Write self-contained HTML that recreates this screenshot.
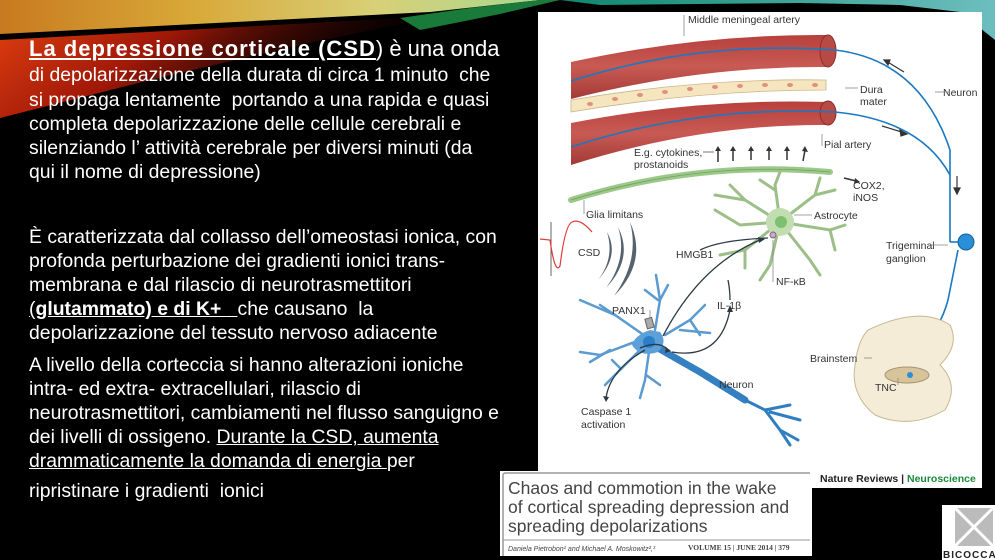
<!DOCTYPE html>
<html><head><meta charset="utf-8"><style>
html,body{margin:0;padding:0;background:#000;width:995px;height:560px;overflow:hidden;position:relative;font-family:"Liberation Sans",sans-serif}
.t{position:absolute;left:29px;color:#fff;font-size:19.4px;white-space:nowrap;line-height:22px}
.u{text-decoration:underline}
</style></head><body>
<svg width="995" height="560" style="position:absolute;left:0;top:0">
<defs>
<linearGradient id="g1" x1="0" y1="0" x2="1" y2="0"><stop offset="0" stop-color="#c87a20"/><stop offset="0.35" stop-color="#d8a838"/><stop offset="0.7" stop-color="#d8d078"/><stop offset="1" stop-color="#a8d890"/></linearGradient>
<linearGradient id="g2" x1="0" y1="0" x2="1" y2="0.3"><stop offset="0" stop-color="#e04010"/><stop offset="0.4" stop-color="#a01808"/><stop offset="1" stop-color="#000" stop-opacity="0"/></linearGradient>
<linearGradient id="g4" x1="0" y1="0" x2="1" y2="0"><stop offset="0" stop-color="#1a8"/><stop offset="1" stop-color="#8ee"/></linearGradient>
<linearGradient id="art" x1="0" y1="0" x2="0" y2="1"><stop offset="0" stop-color="#b8403c"/><stop offset="0.5" stop-color="#c85a54"/><stop offset="1" stop-color="#a33a36"/></linearGradient>
</defs>
<polygon points="0,0 540,0 430,12 0,34" fill="url(#g1)"/>
<polygon points="0,40 440,16 300,45 150,80 0,118" fill="url(#g2)"/>
<polygon points="400,18 470,8 540,0 560,0 500,14 420,30" fill="#1a7a3a"/>
<polygon points="560,0 995,0 995,40 960,12 900,5 800,3 600,5" fill="url(#g4)" opacity="0.8"/>

<!-- figure -->
<rect x="538" y="12" width="444" height="459" fill="#fff"/>
<rect x="812" y="471" width="170" height="17" fill="#fff"/>
<path d="M571,62 Q700,34 827,35 L827,67 Q700,66 571,99 Z" fill="url(#art)"/>
<ellipse cx="828" cy="51" rx="8" ry="16" fill="#b84a45" stroke="#8a2e2a" stroke-width="1"/>
<path d="M571,100 Q700,78 826,80 L826,90 Q700,90 571,112 Z" fill="#f6e6c0" stroke="#c9b48a" stroke-width="0.8"/>
<g fill="#e09080"><ellipse cx="590" cy="104" rx="3" ry="2"/><ellipse cx="615" cy="99" rx="3" ry="2"/><ellipse cx="640" cy="95" rx="3" ry="2"/><ellipse cx="665" cy="92" rx="3" ry="2"/><ellipse cx="690" cy="89" rx="3" ry="2"/><ellipse cx="715" cy="87" rx="3" ry="2"/><ellipse cx="740" cy="86" rx="3" ry="2"/><ellipse cx="765" cy="85" rx="3" ry="2"/><ellipse cx="790" cy="85" rx="3" ry="2"/><ellipse cx="815" cy="85" rx="3" ry="2"/></g>
<path d="M571,123 Q700,98 827,102 L827,125 Q700,124 571,165 Z" fill="url(#art)"/>
<ellipse cx="828" cy="113" rx="8" ry="12" fill="#b84a45" stroke="#8a2e2a" stroke-width="1"/>
<g fill="none" stroke="#1a78c2" stroke-width="1.6">
<path d="M571,81 Q700,40 835,50 Q920,60 950,150 L950,242"/>
<path d="M571,147 Q700,105 835,112 Q920,120 950,175"/>
<path d="M958,250 Q950,290 948,300 Q940,330 920,345 Q905,360 906,375"/>
</g>
<circle cx="966" cy="242" r="8" fill="#2a8fd6" stroke="#1060a0"/>
<line x1="950" y1="242" x2="958" y2="242" stroke="#1a78c2" stroke-width="1.6"/>
<g stroke="#333" stroke-width="1.2" fill="#333">
<path d="M904,72 L886,61" /><polygon points="884,60 890,60 888,65"/>
<path d="M882,126 L905,133" /><polygon points="907,134 900,130 901,136"/>
<path d="M957,176 L957,190" /><polygon points="954,188 960,188 957,194"/>
</g>
<path d="M571,200 Q700,160 830,172" fill="none" stroke="#9cc98a" stroke-width="6" stroke-linecap="round"/>
<path d="M571,200 Q700,160 830,172" fill="none" stroke="#6fa05c" stroke-width="0.8"/>
<g stroke="#333" stroke-width="1.5" fill="#333">
<line x1="718" y1="162" x2="718" y2="150"/><line x1="733" y1="161" x2="733" y2="150"/><line x1="751" y1="160" x2="751" y2="150"/><line x1="769" y1="160" x2="769" y2="150"/><line x1="787" y1="160" x2="787" y2="150"/><line x1="803" y1="161" x2="805" y2="150"/>
<path d="M844,178 L856,181" fill="none"/>
</g>
<g fill="#333"><polygon points="715,151 721,151 718,146"/><polygon points="730,151 736,151 733,146"/><polygon points="748,151 754,151 751,146"/><polygon points="766,151 772,151 769,146"/><polygon points="784,151 790,151 787,146"/><polygon points="802,151 808,152 805,146"/><polygon points="855,178 860,182 854,184"/></g>
<line x1="703" y1="152" x2="714" y2="152" stroke="#555" stroke-width="0.8"/>
<g stroke="#9cbf88" stroke-width="3" fill="none" stroke-linecap="round">
<path d="M780,222 L745,200 L730,185"/><path d="M745,200 L715,195"/><path d="M780,222 L775,185 L780,172"/><path d="M775,190 L760,180"/>
<path d="M780,222 L815,195 L820,178"/><path d="M815,195 L835,190"/><path d="M780,222 L830,230 L845,225"/><path d="M830,230 L835,250"/>
<path d="M780,222 L810,260 L820,275"/><path d="M780,222 L770,265 L760,280"/><path d="M780,222 L745,250 L720,255"/><path d="M745,250 L745,268"/>
<path d="M780,222 L740,225 L715,210"/>
</g>
<circle cx="780" cy="222" r="14" fill="#c2deb0"/>
<circle cx="781" cy="222" r="6" fill="#7cc070"/>
<circle cx="773" cy="235" r="3" fill="#c9a6e0" stroke="#866"/>
<line x1="551" y1="222" x2="551" y2="276" stroke="#666" stroke-width="1"/>
<path d="M540,239 L550,240 Q555,275 560,266 Q565,225 572,222 Q580,218 592,232" fill="none" stroke="#e03a3a" stroke-width="1.2"/>
<g fill="#56636e"><path d="M607,232 Q620,255 598,280 Q615,258 607,232Z"/><path d="M618,227 Q634,258 606,288 Q628,258 618,227Z"/><path d="M630,222 Q648,262 614,296 Q640,260 630,222Z"/></g>
<!-- neuron -->
<g stroke="#5b9bd0" stroke-width="2.5" fill="none" stroke-linecap="round">
<path d="M648,338 L615,315 L580,300"/><path d="M615,315 L600,305"/><path d="M640,340 L600,355 L580,352"/><path d="M610,350 L590,362"/>
<path d="M645,345 L615,375 L605,385"/><path d="M620,368 L612,360"/>
<path d="M650,345 L645,380 L640,398"/><path d="M646,375 L660,385"/>
<path d="M655,330 L660,300 L656,275"/><path d="M658,300 L645,290"/><path d="M660,300 L668,285"/>
<path d="M665,335 L690,320 L705,305"/><path d="M690,320 L700,335"/><path d="M680,330 L710,333"/>
</g>
<path d="M658,348 L700,372 L745,400" stroke="#3580c0" stroke-width="7" fill="none" stroke-linecap="round" stroke-dasharray="16,2"/>
<g stroke="#2f7fc0" stroke-width="3" fill="none" stroke-linecap="round">
<path d="M745,400 L765,410 L790,405 M765,410 L780,430 L790,445 M770,412 L800,420 M780,430 L798,440"/>
</g>
<path d="M650,330 Q635,335 632,345 Q640,358 658,352 Q668,342 660,332Z" fill="#5ba0d8"/>
<circle cx="649" cy="342" r="6" fill="#2b7fc7"/>
<rect x="646" y="318" width="7" height="10" fill="#aaa" stroke="#666" transform="rotate(-15 650 323)"/>
<g stroke="#2d3a44" stroke-width="1.3" fill="none">
<path d="M663,336 Q700,265 760,240"/><path d="M672,352 Q720,360 730,310"/><path d="M700,250 Q720,240 768,238"/><path d="M730,300 Q730,290 728,280"/><path d="M645,350 Q610,370 606,398"/><path d="M640,348 Q660,340 668,350"/>
</g>
<g fill="#2d3a44"><polygon points="727,312 733,312 730,305"/><polygon points="603,396 609,397 606,402"/><polygon points="666,347 671,351 665,353"/><polygon points="758,237 765,239 759,243"/></g>
<path d="M868,330 Q920,305 950,325 Q960,345 940,365 Q960,385 945,410 Q910,430 875,415 Q850,395 855,365 Q858,340 868,330Z" fill="#f4ecd6" stroke="#c8b890"/>
<ellipse cx="907" cy="375" rx="22" ry="8" fill="#d8c49a" stroke="#a89270"/>
<circle cx="910" cy="375" r="3" fill="#2a8fd6"/>
<line x1="864" y1="358" x2="872" y2="358" stroke="#888" stroke-width="0.8"/>
<g font-family="Liberation Sans, sans-serif" font-size="10.5" fill="#333">
<text x="688" y="23">Middle meningeal artery</text>
<text x="860" y="93">Dura</text><text x="860" y="105">mater</text>
<text x="943" y="96">Neuron</text>
<text x="824" y="148">Pial artery</text>
<text x="634" y="156">E.g. cytokines,</text><text x="634" y="168">prostanoids</text>
<text x="853" y="189">COX2,</text><text x="853" y="201">iNOS</text>
<text x="586" y="218">Glia limitans</text>
<text x="814" y="219">Astrocyte</text>
<text x="886" y="249">Trigeminal</text><text x="886" y="262">ganglion</text>
<text x="578" y="256">CSD</text>
<text x="676" y="258">HMGB1</text>
<text x="776" y="285">NF-κB</text>
<text x="717" y="309">IL-1β</text>
<text x="612" y="314">PANX1</text>
<text x="810" y="362">Brainstem</text>
<text x="875" y="391">TNC</text>
<text x="719" y="388">Neuron</text>
<text x="581" y="415">Caspase 1</text><text x="581" y="428">activation</text>
<text x="820" y="482" font-weight="bold" font-size="10.5" fill="#222">Nature Reviews | <tspan fill="#1a8a3a">Neuroscience</tspan></text>
</g>
<g stroke="#888" stroke-width="0.8"><line x1="684" y1="15" x2="684" y2="36"/><line x1="845" y1="88" x2="858" y2="88"/><line x1="935" y1="92" x2="950" y2="92"/><line x1="822" y1="134" x2="822" y2="146"/><line x1="584" y1="200" x2="584" y2="214"/><line x1="794" y1="215" x2="812" y2="215"/><line x1="930" y1="245" x2="948" y2="245"/><line x1="773" y1="240" x2="773" y2="282"/><line x1="650" y1="310" x2="650" y2="318"/><line x1="898" y1="378" x2="898" y2="385"/></g>

<rect x="500" y="471" width="312" height="85" fill="#fff"/>
<path d="M503,556 L503,475 Q503,473 506,473 L810,473" fill="none" stroke="#999" stroke-width="1.5"/>
<line x1="503" y1="540" x2="810" y2="540" stroke="#999" stroke-width="1"/>
<g font-family="Liberation Sans, sans-serif" fill="#444">
<text x="508" y="494" font-size="17.5">Chaos and commotion in the wake</text>
<text x="508" y="513" font-size="17.5">of cortical spreading depression and</text>
<text x="508" y="532" font-size="17.5">spreading depolarizations</text>
<text x="508" y="551" font-size="7" font-style="italic">Daniela Pietrobon¹ and Michael A. Moskowitz²,³</text>
<text x="688" y="550" font-size="7.5" font-family="Liberation Serif, serif" font-weight="bold">VOLUME 15 | JUNE 2014 | 379</text>
</g>
<rect x="942" y="505" width="53" height="55" fill="#fff"/>
<rect x="955" y="508" width="38" height="38" fill="#bbb"/>
<path d="M955,508 L993,546 M993,508 L955,546" stroke="#fff" stroke-width="3"/>
<text x="943" y="558" font-family="Liberation Sans, sans-serif" font-size="10" font-weight="bold" fill="#222" letter-spacing="1">BICOCCA</text>
</svg>

<div class="t" style="top:38px;font-size:22px"><b class="u" style="letter-spacing:1px">La depressione corticale (CSD</b>) è una onda</div>
<div class="t" style="top:64px">di depolarizzazione della durata di circa 1 minuto &nbsp;che</div>
<div class="t" style="top:89px">si propaga lentamente &nbsp;portando a una rapida e quasi</div>
<div class="t" style="top:113px">completa depolarizzazione delle cellule cerebrali e</div>
<div class="t" style="top:137px">silenziando l’ attività cerebrale per diversi minuti (da</div>
<div class="t" style="top:161px">qui il nome di depressione)</div>
<div class="t" style="top:226px">È caratterizzata dal collasso dell’omeostasi ionica, con</div>
<div class="t" style="top:250px">profonda perturbazione dei gradienti ionici trans-</div>
<div class="t" style="top:274px">membrana e dal rilascio di neurotrasmettitori</div>
<div class="t" style="top:298px"><span class="u">(<b>glutammato) e di K+ </b>&nbsp;&nbsp;</span>che causano &nbsp;la</div>
<div class="t" style="top:322px">depolarizzazione del tessuto nervoso adiacente</div>
<div class="t" style="top:354px">A livello della corteccia si hanno alterazioni ioniche</div>
<div class="t" style="top:378px">intra- ed extra- extracellulari, rilascio di</div>
<div class="t" style="top:402px">neurotrasmettitori, cambiamenti nel flusso sanguigno e</div>
<div class="t" style="top:426px">dei livelli di ossigeno. <span class="u">Durante la CSD, aumenta</span></div>
<div class="t" style="top:450px"><span class="u">drammaticamente la domanda di energia </span>per</div>
<div class="t" style="top:480px">ripristinare i gradienti &nbsp;ionici</div>
</body></html>
